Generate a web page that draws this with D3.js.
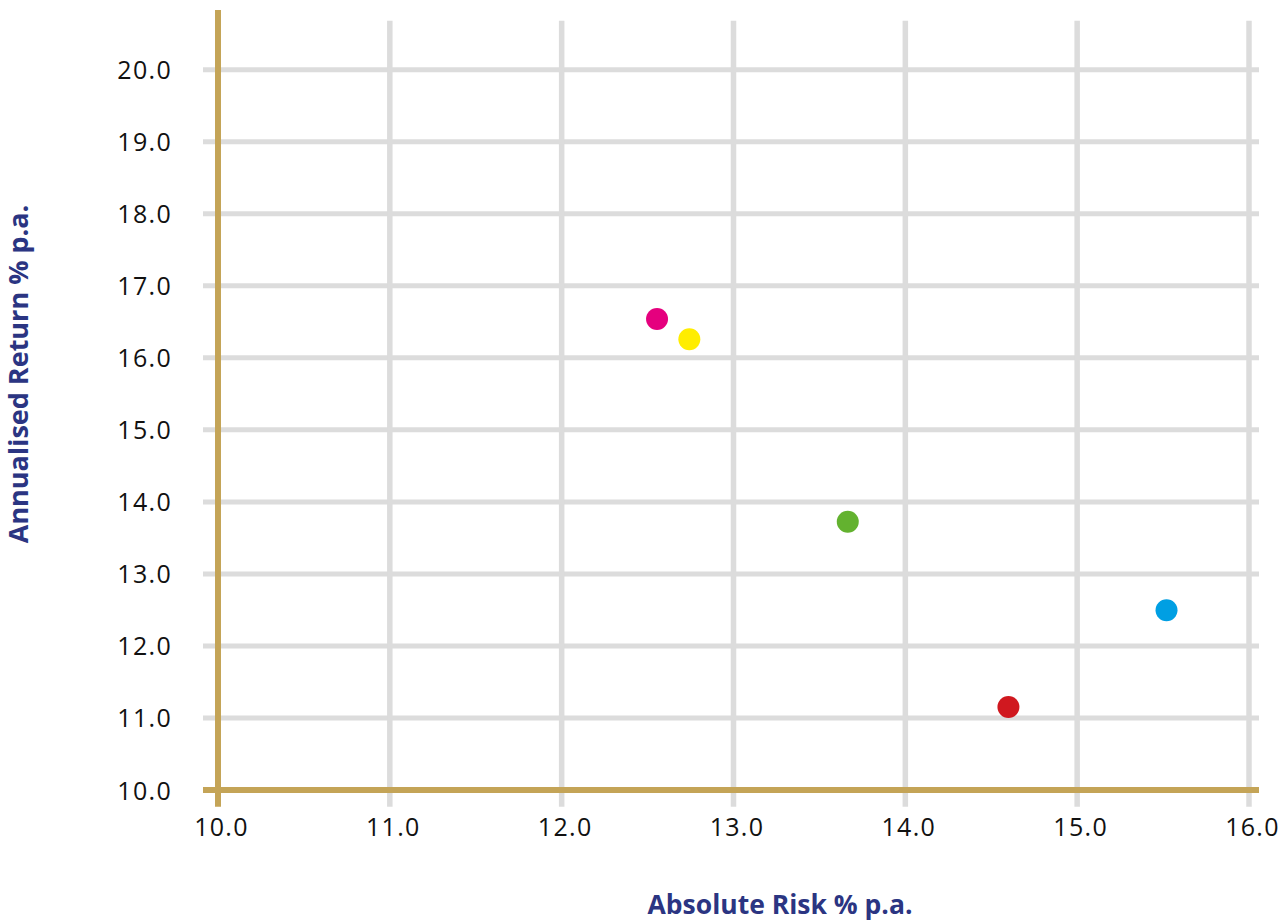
<!DOCTYPE html>
<html><head><meta charset="utf-8">
<script src="https://cdn.jsdelivr.net/npm/d3@7"></script>
<style>body{margin:0;background:#fff}svg{display:block}</style>
</head><body><svg id="c" width="1288" height="923"></svg>
<script>
const names = ["Magenta", "Yellow", "Green", "Red", "Blue"];
const risk = [12.555, 12.743, 13.665, 14.60, 15.52];
const ret = [16.54, 16.257, 13.725, 11.152, 12.495];
const colors = ["#E5007E", "#FFED00", "#63B22F", "#D0181F", "#009FE3"];
const xTicks = [10, 11, 12, 13, 14, 15, 16];
const yTicks = [10, 11, 12, 13, 14, 15, 16, 17, 18, 19, 20];
const xTitle = "Absolute Risk % p.a.";
const yTitle = "Annualised Return % p.a.";

const svg = d3.select("#c");
const x = d3.scaleLinear().domain([10, 16]).range([218, 1249]);
const y = d3.scaleLinear().domain([10, 20]).range([790, 69.7]);
const grid = "#DCDCDC", gold = "#C4A457", navy = "#2B3582";
const font = "'Open Sans', sans-serif";

// gridlines
svg.append("g").selectAll("line").data(yTicks.filter(d => d !== 10)).join("line")
  .attr("x1", 203).attr("x2", 1259).attr("y1", d => y(d)).attr("y2", d => y(d))
  .attr("stroke", grid).attr("stroke-width", 5);
svg.append("g").selectAll("line").data(xTicks.filter(d => d !== 10)).join("line")
  .attr("y1", 20.7).attr("y2", 806.7).attr("x1", d => x(d)).attr("x2", d => x(d))
  .attr("stroke", grid).attr("stroke-width", 5.5);

// gold axes
svg.append("line").attr("x1", x(10)).attr("x2", x(10)).attr("y1", 10).attr("y2", 806.7)
  .attr("stroke", gold).attr("stroke-width", 6);
svg.append("line").attr("x1", 203).attr("x2", 1259).attr("y1", y(10)).attr("y2", y(10))
  .attr("stroke", gold).attr("stroke-width", 6);

// axis labels
const fmt = d3.format(".1f");
const gx = svg.append("g").attr("transform", `translate(0,${y(10)})`)
  .call(d3.axisBottom(x).tickValues(xTicks).tickFormat(fmt).tickSize(0).tickPadding(28));
const gy = svg.append("g").attr("transform", `translate(${x(10)},0)`)
  .call(d3.axisLeft(y).tickValues(yTicks).tickFormat(fmt).tickSize(0).tickPadding(46));
[gx, gy].forEach(g => {
  g.select(".domain").remove();
  g.selectAll("text").attr("font-family", font).attr("font-size", 25)
    .attr("letter-spacing", 1.3).attr("fill", "#111");
});
gx.selectAll("text").attr("dx", 3);
gy.selectAll("text").attr("dy", "0.36em");

// points
svg.append("g").selectAll("circle").data(names).join("circle")
  .attr("cx", (d, i) => x(risk[i])).attr("cy", (d, i) => y(ret[i]))
  .attr("r", 11).attr("fill", (d, i) => colors[i]);

// titles
svg.append("text").attr("x", 780).attr("y", 914).attr("text-anchor", "middle")
  .attr("font-family", font).attr("font-weight", 700).attr("font-size", 26.5)
  .attr("fill", navy).text(xTitle);
svg.append("text").attr("transform", "translate(28,374) rotate(-90)").attr("text-anchor", "middle")
  .attr("font-family", font).attr("font-weight", 700).attr("font-size", 27)
  .attr("fill", navy).text(yTitle);
</script></body></html>
